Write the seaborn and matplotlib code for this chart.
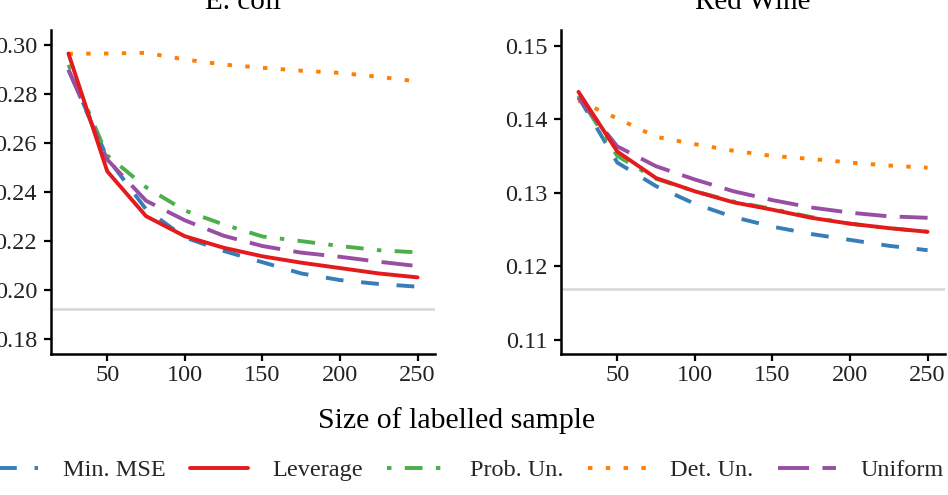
import numpy as np
import pandas as pd
import seaborn as sns
import matplotlib.pyplot as plt

sizes = [25, 50, 75, 100, 125, 150, 175, 200, 225, 250]
methods = ['Min. MSE', 'Leverage', 'Prob. Un.', 'Det. Un.', 'Uniform']

# E. coli
minmse_ecoli = [0.2900, 0.2540, 0.2330, 0.2215, 0.2160, 0.2114, 0.2068, 0.2041, 0.2025, 0.2014]
leverage_ecoli = [0.2966, 0.2485, 0.2302, 0.2220, 0.2173, 0.2138, 0.2112, 0.2090, 0.2068, 0.2052]
probun_ecoli = [0.2920, 0.2550, 0.2420, 0.2325, 0.2268, 0.2219, 0.2200, 0.2180, 0.2163, 0.2154]
detun_ecoli = [0.2965, 0.2966, 0.2969, 0.2942, 0.2921, 0.2908, 0.2896, 0.2887, 0.2871, 0.2852]
uniform_ecoli = [0.2900, 0.2533, 0.2365, 0.2285, 0.2222, 0.2180, 0.2153, 0.2136, 0.2116, 0.2098]
base_ecoli = 0.1922

# Red Wine
minmse_wine = [0.1430, 0.1341, 0.1309, 0.1285, 0.1267, 0.1254, 0.1244, 0.1236, 0.1228, 0.1222]
leverage_wine = [0.1437, 0.1356, 0.1320, 0.1302, 0.1287, 0.1277, 0.1266, 0.1258, 0.1252, 0.1247]
probun_wine = [0.1432, 0.1350, 0.1319, 0.1302, 0.1288, 0.1278, 0.1267, 0.1258, 0.1252, 0.1247]
detun_wine = [0.1425, 0.1401, 0.1376, 0.1366, 0.1357, 0.1350, 0.1346, 0.1341, 0.1337, 0.1334]
uniform_wine = [0.1429, 0.1363, 0.1336, 0.1318, 0.1302, 0.1290, 0.1280, 0.1273, 0.1268, 0.1266]
base_wine = 0.1169

ecoli_yticks = [0.18, 0.20, 0.22, 0.24, 0.26, 0.28, 0.30]
wine_yticks = [0.11, 0.12, 0.13, 0.14, 0.15]
xticks = [50, 100, 150, 200, 250]

sns.set_style('ticks')
plt.rcParams['font.family'] = ['Liberation Serif', 'DejaVu Serif']
plt.rcParams['lines.scale_dashes'] = False

colors = {'Min. MSE': '#377EB8', 'Leverage': '#E41A1C', 'Prob. Un.': '#4DAF4A',
          'Det. Un.': '#FF7F00', 'Uniform': '#984EA3'}
u = 3.2
dashes = {'Min. MSE': (4 * u, 4 * u), 'Leverage': '', 'Prob. Un.': (u, 3 * u, 4 * u, 3 * u),
          'Det. Un.': (u, 3 * u), 'Uniform': (7 * u, 3 * u)}
draw_order = ['Min. MSE', 'Prob. Un.', 'Det. Un.', 'Uniform', 'Leverage']


def long_df(series):
    rows = []
    for m, vals in zip(methods, series):
        for s, v in zip(sizes, vals):
            rows.append({'size': s, 'mse': v, 'method': m})
    return pd.DataFrame(rows)


df_ecoli = long_df([minmse_ecoli, leverage_ecoli, probun_ecoli, detun_ecoli, uniform_ecoli])
df_wine = long_df([minmse_wine, leverage_wine, probun_wine, detun_wine, uniform_wine])

fig = plt.figure(figsize=(9.48, 4.95), dpi=100)
ax1 = fig.add_axes([0.0538, 0.2848, 0.4051, 0.6545])
ax2 = fig.add_axes([0.5918, 0.2848, 0.4051, 0.6545])

panels = [(ax1, df_ecoli, base_ecoli, 'E. coli', ecoli_yticks, (0.1739, 0.3062)),
          (ax2, df_wine, base_wine, 'Red Wine', wine_yticks, (0.1081, 0.1521))]

for ax, d, base, title, yt, ylim in panels:
    ax.axhline(base, color='#d6d6d6', lw=1.8, zorder=1)
    sns.lineplot(data=d, x='size', y='mse', hue='method', style='method',
                 hue_order=draw_order, style_order=draw_order, palette=colors,
                 dashes=dashes, linewidth=2.8, errorbar=None, ax=ax, zorder=3)
    ax.set_xlim(13.75, 261.25)
    ax.set_ylim(*ylim)
    ax.set_xticks(xticks)
    ax.set_yticks(yt)
    ax.set_yticklabels([f'{v:.2f}' for v in yt])
    ax.set_xlabel('')
    ax.set_ylabel('')
    ax.set_title(title, fontsize=21, pad=15, color='black')
    ax.tick_params(labelsize=17.5, length=5, width=1.6, colors='black',
                   labelcolor='#222222')
    ax.tick_params(axis='y', pad=5)
    ax.tick_params(axis='x', pad=3)
    for sp in ['left', 'bottom']:
        ax.spines[sp].set_linewidth(1.8)
        ax.spines[sp].set_color('black')
    sns.despine(ax=ax)

handles, labels = ax1.get_legend_handles_labels()
for ax in (ax1, ax2):
    if ax.get_legend() is not None:
        ax.get_legend().remove()
lookup = dict(zip(labels, handles))
fig.legend([lookup[m] for m in methods], methods, loc='center', ncol=5,
           bbox_to_anchor=(0.4873, 0.0505), frameon=False, fontsize=17.5,
           handlelength=2.4, handletextpad=1.0, columnspacing=1.0)

fig.text(0.482, 1 - 428 / 495, 'Size of labelled sample', ha='center', va='baseline',
         fontsize=21.5, color='black')

fig.savefig('out.png', dpi=100)
